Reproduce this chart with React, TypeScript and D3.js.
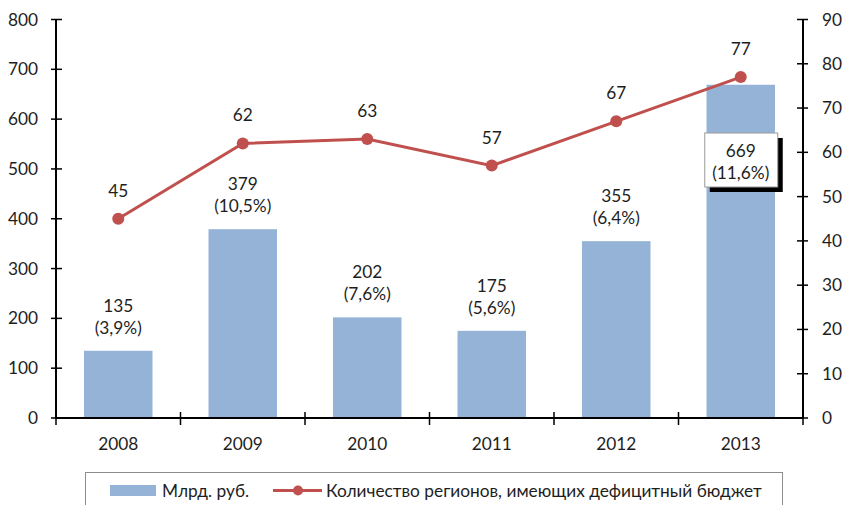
import React from 'react';
import * as d3 from 'd3';

const years = ['2008', '2009', '2010', '2011', '2012', '2013'];
const deficit = [135, 379, 202, 175, 355, 669];
const deficitShare = ['3,9%', '10,5%', '7,6%', '5,6%', '6,4%', '11,6%'];
const regions = [45, 62, 63, 57, 67, 77];
const leftTicks = [0, 100, 200, 300, 400, 500, 600, 700, 800];
const rightTicks = [0, 10, 20, 30, 40, 50, 60, 70, 80, 90];
const seriesNames = ['Млрд. руб.', 'Количество регионов, имеющих дефицитный бюджет'];

const barColor = '#95B3D7';
const lineColor = '#C0504D';
const textColor = '#1e1e1e';
const font = 'Lato, "Open Sans", sans-serif';

export default function App() {
    const width = 842, height = 505;
    const left = 56, right = 803, top = 19.5, bottom = 418;

    const x = d3.scaleBand()
        .domain(years)
        .range([left, right])
        .paddingInner(0.45)
        .paddingOuter(0.225);
    const step = x.step();
    const center = (d: string) => (x(d) as number) + x.bandwidth() / 2;

    const yL = d3.scaleLinear().domain([0, 800]).range([bottom, top]);
    const yR = d3.scaleLinear().domain([0, 90]).range([bottom, top]);

    const line = d3.line<number>()
        .x((d, i) => center(years[i]))
        .y(d => yR(d));

    const last = years.length - 1;

    return (
        <svg width={width} height={height}
             style={{ position: 'absolute', left: 0, top: 0, background: '#fff' }}
             fontFamily={font} fontSize={17.3} fill={textColor}>
            {/* bars */}
            {deficit.map((v, i) => (
                <rect key={'b' + i} x={x(years[i])} y={yL(v)} width={x.bandwidth()}
                      height={bottom - yL(v)} fill={barColor} />
            ))}

            {/* left axis */}
            <line x1={left} x2={left} y1={top} y2={bottom} stroke="#000" strokeWidth={2} />
            {leftTicks.map(t => (
                <g key={'l' + t}>
                    <line x1={left - 5} x2={left + 6} y1={yL(t)} y2={yL(t)} stroke="#000" strokeWidth={1.5} />
                    <text x={38} y={yL(t)} dy="0.35em" textAnchor="end">{t}</text>
                </g>
            ))}

            {/* right axis */}
            <line x1={right} x2={right} y1={top} y2={bottom} stroke="#000" strokeWidth={2} />
            {rightTicks.map(t => (
                <g key={'r' + t}>
                    <line x1={right - 6} x2={right + 5} y1={yR(t)} y2={yR(t)} stroke="#000" strokeWidth={1.5} />
                    <text x={822} y={yR(t)} dy="0.35em" textAnchor="start">{t}</text>
                </g>
            ))}

            {/* bottom axis */}
            <line x1={left} x2={right} y1={bottom} y2={bottom} stroke="#000" strokeWidth={2} />
            {d3.range(years.length + 1).map(i => (
                <line key={'xt' + i} x1={left + i * step} x2={left + i * step}
                      y1={bottom - 6} y2={bottom + 7} stroke="#000" strokeWidth={1.5} />
            ))}
            {years.map(d => (
                <text key={'xl' + d} x={center(d)} y={450} textAnchor="middle">{d}</text>
            ))}

            {/* bar labels */}
            {deficit.map((v, i) => {
                const cx = center(years[i]);
                if (i === last) {
                    const by = 133;
                    return (
                        <g key={'bl' + i}>
                            <rect x={cx - 31} y={by + 5} width={73} height={54} fill="#000" />
                            <rect x={cx - 36} y={by} width={73} height={54} fill="#fff" stroke="#9a9a9a" strokeWidth={1} />
                            <text x={cx} y={by + 24} textAnchor="middle">{v}</text>
                            <text x={cx} y={by + 46} textAnchor="middle">({deficitShare[i]})</text>
                        </g>
                    );
                }
                const yt = yL(v);
                return (
                    <g key={'bl' + i}>
                        <text x={cx} y={yt - 39} textAnchor="middle">{v}</text>
                        <text x={cx} y={yt - 17} textAnchor="middle">({deficitShare[i]})</text>
                    </g>
                );
            })}

            {/* line series */}
            <path d={line(regions) || ''} fill="none" stroke={lineColor} strokeWidth={3} />
            {regions.map((v, i) => (
                <g key={'p' + i}>
                    <circle cx={center(years[i])} cy={yR(v)} r={6} fill={lineColor} />
                    <text x={center(years[i])} y={yR(v) - 22} textAnchor="middle">{v}</text>
                </g>
            ))}

            {/* legend */}
            <rect x={85.5} y={472.5} width={697} height={40} fill="#fff" stroke="#8c8c8c" strokeWidth={1} />
            <rect x={110} y={485} width={46} height={11} fill={barColor} />
            <text x={162} y={497}>{seriesNames[0]}</text>
            <line x1={273} x2={322} y1={490.5} y2={490.5} stroke={lineColor} strokeWidth={3} />
            <circle cx={298} cy={490.5} r={5} fill={lineColor} />
            <text x={326} y={497}>{seriesNames[1]}</text>
        </svg>
    );
}
